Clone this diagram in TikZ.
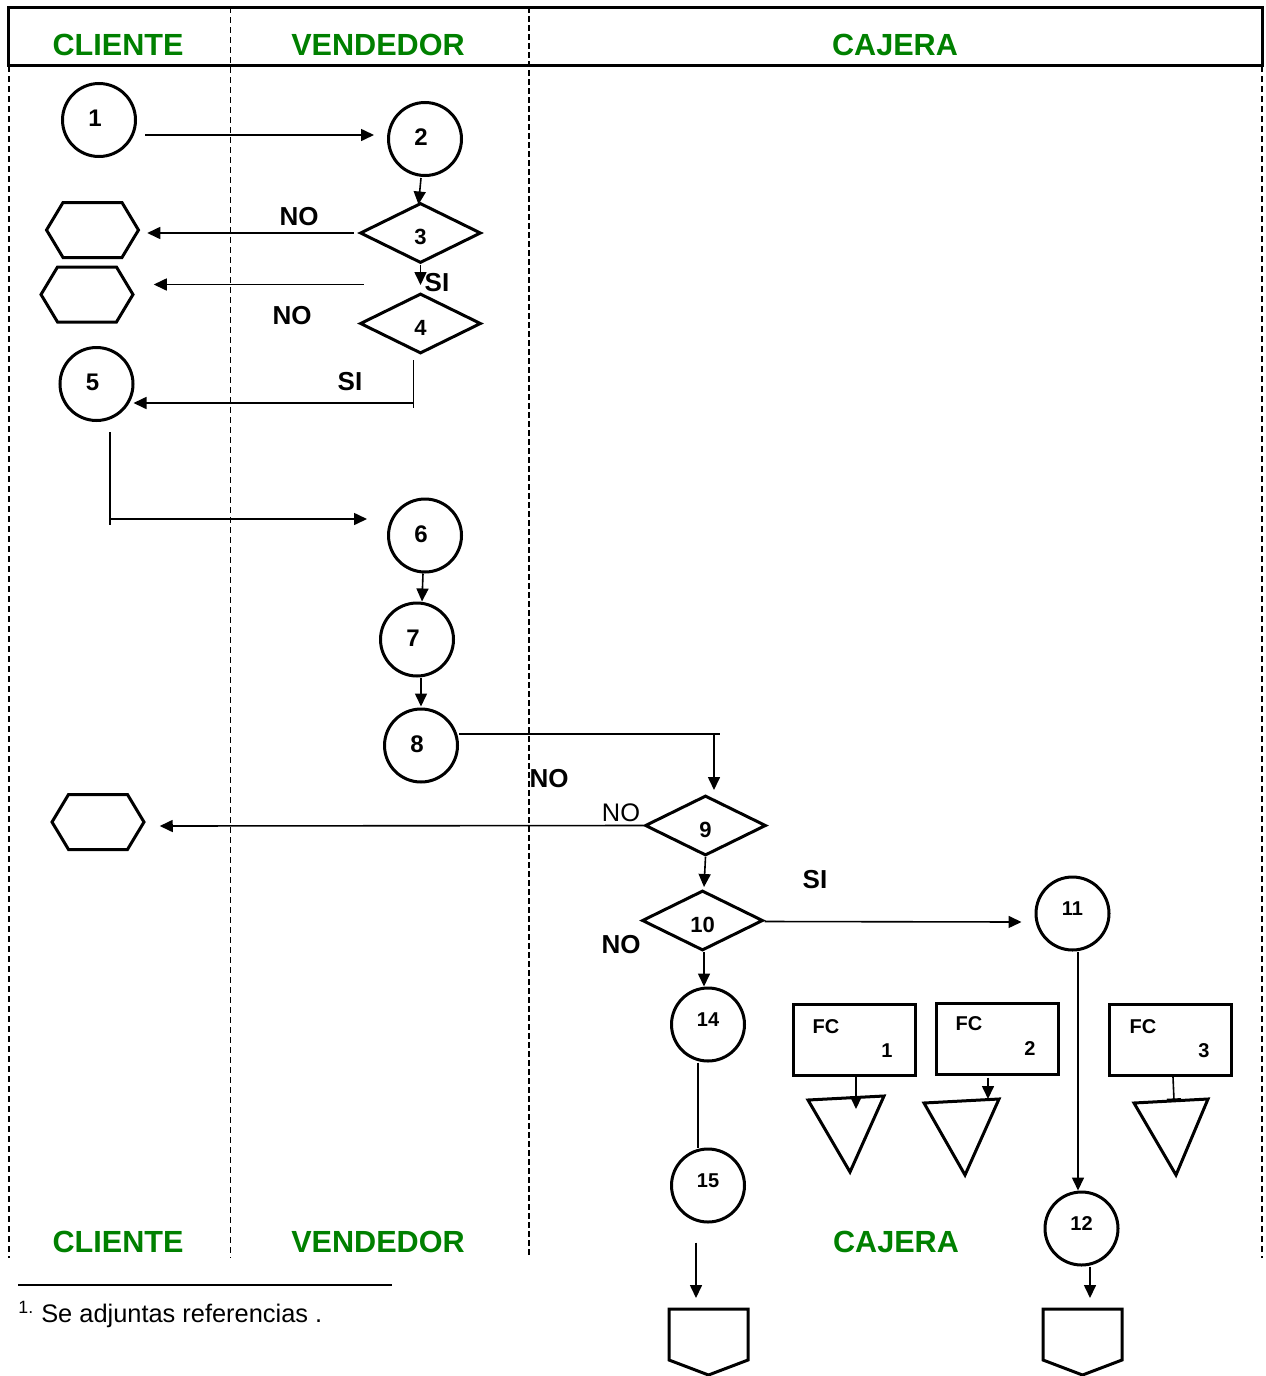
\documentclass[tikz,border=0pt]{standalone}
\usepackage{fontspec}
\setmainfont{Liberation Sans}
\usetikzlibrary{shapes.geometric,shapes.symbols,arrows.meta,calc}
\definecolor{lanegreen}{RGB}{0,128,0}
\begin{document}
\begin{tikzpicture}[x=0.5pt,y=-0.5pt,
  shp/.style={draw, line width=1.5pt, inner sep=0pt},
  circ/.style={shp, circle, minimum size=36.5pt, font=\fontsize{12}{14}\selectfont\bfseries,
    text height=6.6pt, text depth=0pt, execute at begin node={\hspace*{-4pt}}},
  circsm/.style={shp, circle, minimum size=36.5pt, font=\fontsize{10}{12}\selectfont\bfseries,
    text height=1.7pt, text depth=0pt},
  dia/.style={shp, diamond, minimum width=60.5pt, minimum height=30pt, font=\fontsize{11}{13}\selectfont\bfseries,
    text height=11.9pt, text depth=0pt},
  hexa/.style={shp, signal, signal to=east and west, signal pointer angle=118, minimum width=46pt, minimum height=27.5pt},
  offbody/.style={rectangle, inner sep=0pt, outer sep=0pt, minimum width=39.5pt, minimum height=25.5pt},
  fcbox/.style={shp, rectangle, minimum width=61pt, minimum height=35.5pt},
  fctext/.style={font=\fontsize{10}{12}\selectfont\bfseries, inner sep=0pt},
  lane/.style={font=\fontsize{15.3}{18}\selectfont\bfseries, text=lanegreen, inner sep=0pt},
  lbl/.style={font=\fontsize{13}{15}\selectfont\bfseries, inner sep=0pt},
  lblr/.style={font=\fontsize{12.7}{15}\selectfont, inner sep=0pt},
  conn/.style={line width=0.8pt},
  arr/.style={conn, -{Triangle[length=6.5pt,width=6pt]}},
  bar/.style={conn, -{Bar[width=7pt]}},
]
\path[use as bounding box] (0,0) rectangle (1265,1376);

% header frame and lanes
\draw[line width=1.5pt] (8,7) rectangle (1262,65);
\draw[line width=1.2pt, dash pattern=on 3pt off 2pt] (9,66) -- (9,1258);
\draw[line width=1.2pt, dash pattern=on 3pt off 2pt] (1262,66) -- (1262,1258);
\draw[line width=0.5pt, dash pattern=on 3pt off 2pt] (230,7) -- (230,1258);
\draw[line width=0.8pt, dash pattern=on 3pt off 1.5pt] (529,7) -- (529,1258);

\node[lane] (hcl) at (118,45) {CLIENTE};
\node[lane] (hve) at (378,45) {VENDEDOR};
\node[lane] (hca) at (895,45) {CAJERA};
\node[lane] (fcl) at (118,1242) {CLIENTE};
\node[lane] (fve) at (378,1242) {VENDEDOR};
\node[lane] (fca) at (896,1242) {CAJERA};

% nodes
\node[circ] (n1) at (99,120) {1};
\node[circ] (n2) at (425,139) {2};
\node[dia] (d3) at (420.5,233) {3};
\node[dia] (d4) at (420.5,323.5) {4};
\node[hexa] (hA) at (92.5,230) {};
\node[hexa] (hB) at (87,294.5) {};
\node[circ] (n5) at (96.5,384) {5};
\node[circ] (n6) at (425,535.5) {6};
\node[circ] (n7) at (417,639.5) {7};
\node[circ] (n8) at (421,745.5) {8};
\node[dia] (d9) at (705.5,825.5) {9};
\node[hexa] (hC) at (98,822) {};
\node[dia] (d10) at (702.5,920.5) {10};
\node[circsm] (n11) at (1072.5,913.5) {11};
\node[circsm] (n14) at (708,1024.5) {14};
\node[circsm] (n15) at (708,1185.5) {15};
\node[circsm] (n12) at (1081.5,1228.5) {12};
\node[offbody] (o1) at (708.5,1334.5) {};
\node[offbody] (o2) at (1082.5,1334.5) {};
\draw[line width=1.5pt] (o1.north west) -- (o1.north east) -- (o1.south east) -- ($(o1.south)+(0,15)$) -- (o1.south west) -- cycle;
\draw[line width=1.5pt] (o2.north west) -- (o2.north east) -- (o2.south east) -- ($(o2.south)+(0,15)$) -- (o2.south west) -- cycle;
\node[fcbox] (fc1) at (854.5,1040) {};
\node[fcbox] (fc2) at (997.5,1038.5) {};
\node[fcbox] (fc3) at (1170.5,1040) {};
\node[fctext] (fcl1) at (826,1027) {FC};
\node[fctext] (fcn1) at (887,1051) {1};
\node[fctext] (fcl2) at (969,1024) {FC};
\node[fctext] (fcn2) at (1030,1049) {2};
\node[fctext] (fcl3) at (1143,1027) {FC};
\node[fctext] (fcn3) at (1204,1051) {3};

% triangles
\draw[line width=1.5pt] (808,1100) -- (884,1096) -- (850,1172) -- cycle;
\draw[line width=1.5pt] (924,1103) -- (999,1099) -- (965,1175) -- cycle;
\draw[line width=1.5pt] (1134,1103) -- (1208,1099) -- (1176,1175) -- cycle;
\coordinate (t1) at (856,1109);
\coordinate (t2) at (988,1099);
\coordinate (t3) at (1174,1100);

% labels
\node[lbl] (lno1) at (299,217) {NO};
\node[lbl] (lsi1) at (437,283) {SI};
\node[lbl] (lno2) at (292,316) {NO};
\node[lbl] (lsi2) at (350,382) {SI};
\node[lbl] (lno3) at (549,779) {NO};
\node[lblr] (lno4) at (621,813) {NO};
\node[lbl] (lsi3) at (815,880) {SI};
\node[lbl] (lno5) at (621,945) {NO};

% connectors
\draw[arr] ($(n1.east)+(8,15)$) -- ($(n2.west)+(-13,-4)$);
\draw[arr] ($(n2.south)+(-4,1)$) -- ($(d3.north)+(-2,3)$);
\draw[arr] ($(d3.west)+(-5,0)$) -- ($(hA.east)+(7,3)$);
\draw[arr] (d3.south) -- ($(d4.north)+(0,-7)$);
\draw[arr] ($(d4.west)+(5,-39)$) -- ($(hB.east)+(19,-10)$);
\draw[conn] ($(d4.south)+(-7,5)$) -- ($(d4.south)+(-7,53)$);
\draw[arr] ($(d4.south)+(-7,48)$) -- ($(n5.east)+(-1,19)$);
\draw[conn] ($(n5.south)+(13.5,10)$) -- ($(n5.south)+(13.5,103)$);
\draw[arr] ($(n5.south)+(13.5,97)$) -- ($(n6.west)+(-20,-16.5)$);
\draw[arr] ($(n6.south)+(-2,0)$) -- ($(n7.north)+(5,0)$);
\draw[arr] ($(n7.south)+(4,0)$) -- ($(n8.north)+(0,-1)$);
\draw[arr] ($(n8.east)+(0,-11.5)$) -| ($(d9.north)+(8.5,-4)$);
\draw[conn] ($(d9.north)+(8.5,-60)$) -- ($(d9.north)+(14,-60)$);
\draw[arr] (d9.west) -- ($(hC.east)+(14,4)$);
\draw[arr] (d9.south) -- ($(d10.north)+(1.5,-2)$);
\draw[arr] ($(d10.east)+(0,1)$) -- ($(n11.west)+(-13,8.5)$);
\draw[arr] ($(d10.south)+(1.5,0)$) -- ($(n14.north)+(-4,0)$);
\draw[conn] ($(n14.south)+(-10,0)$) -- ($(n15.north)+(-10,0)$);
\draw[arr] ($(n15.south)+(-12,19)$) -- ($(o1.north)+(-12.5,-11)$);
\draw[arr] ($(n11.south)+(5.5,0)$) -- ($(n12.north)+(-3.5,0)$);
\draw[arr] ($(n12.south)+(8.5,0)$) -- ($(o2.north)+(7.5,-11)$);
\draw[arr] ($(fc1.south)+(1.5,0)$) -- (t1);
\draw[arr] ($(fc2.south)+(-9.5,2)$) -- (t2);
\draw[bar] ($(fc3.south)+(2.5,0)$) -- (t3);

% footnote
\draw[line width=0.6pt] (18,1285) -- (392,1285);
\node[anchor=base west, inner sep=0pt, font=\fontsize{12.7}{15}\selectfont] (fn) at (18,1322) {\textsuperscript{1.} Se adjuntas referencias .};
\end{tikzpicture}
\end{document}
